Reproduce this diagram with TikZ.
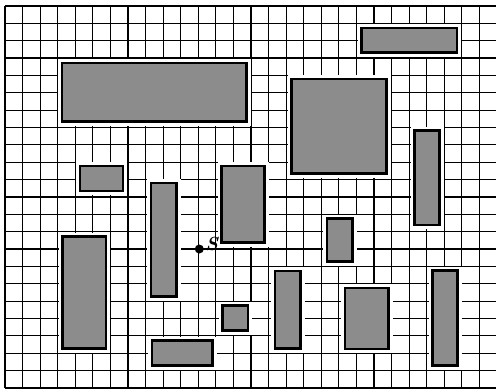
\documentclass[tikz,border=0pt]{standalone}
\usetikzlibrary{math}
\tikzset{
  obst/.style={draw=black, line width=2.2pt, fill=black!45},
  gridline/.style={line width=1.2pt},
}
\begin{document}
\begin{tikzpicture}[x=1pt,y=-1pt]
\tikzmath{
\dx=17.57;
\dy=17.36;
\ox=5;
\oy=6;
\gap=4;
}
\useasboundingbox (0,0) rectangle (496,389);

% grid
\foreach \i in {0,...,27}
  \draw[gridline] ({\ox+\i*\dx},\oy) -- ({\ox+\i*\dx},{\oy+22*\dy});
\foreach \j in {0,...,22}
  \draw[gridline] (\ox,{\oy+\j*\dy}) -- (496,{\oy+\j*\dy});

% obstacles, cleared margin first
\foreach \xa/\ya/\xb/\yb in {62/63/246.5/121.5, 80/166/123/191, 151/183/176.5/296.5,
  221.5/166/264.5/242.5, 361.5/28/457/52.5, 291.5/79/386.5/173.5,
  414.5/130.5/439.5/225, 62.5/236.5/106/348.5, 222.5/305.5/248/330.5,
  152/340.5/212.5/365.5, 327/218.5/352.5/261.5, 275/271/300.5/348.5,
  345/288/388.5/349, 432.5/270.5/457.5/365.5}{
  \fill[white] ({\xa-\gap},{\ya-\gap}) rectangle ({\xb+\gap},{\yb+\gap});
  \draw[obst] (\xa,\ya) rectangle (\xb,\yb);
}

% start point
\node[circle, fill, inner sep=0pt, minimum size=9pt] (start) at (199.3,249) {};
\node[anchor=base west, inner sep=0pt, font=\fontsize{19}{19}\selectfont\bfseries\itshape] (slabel) at (205.5,250.5) {S};
\end{tikzpicture}
\end{document}
